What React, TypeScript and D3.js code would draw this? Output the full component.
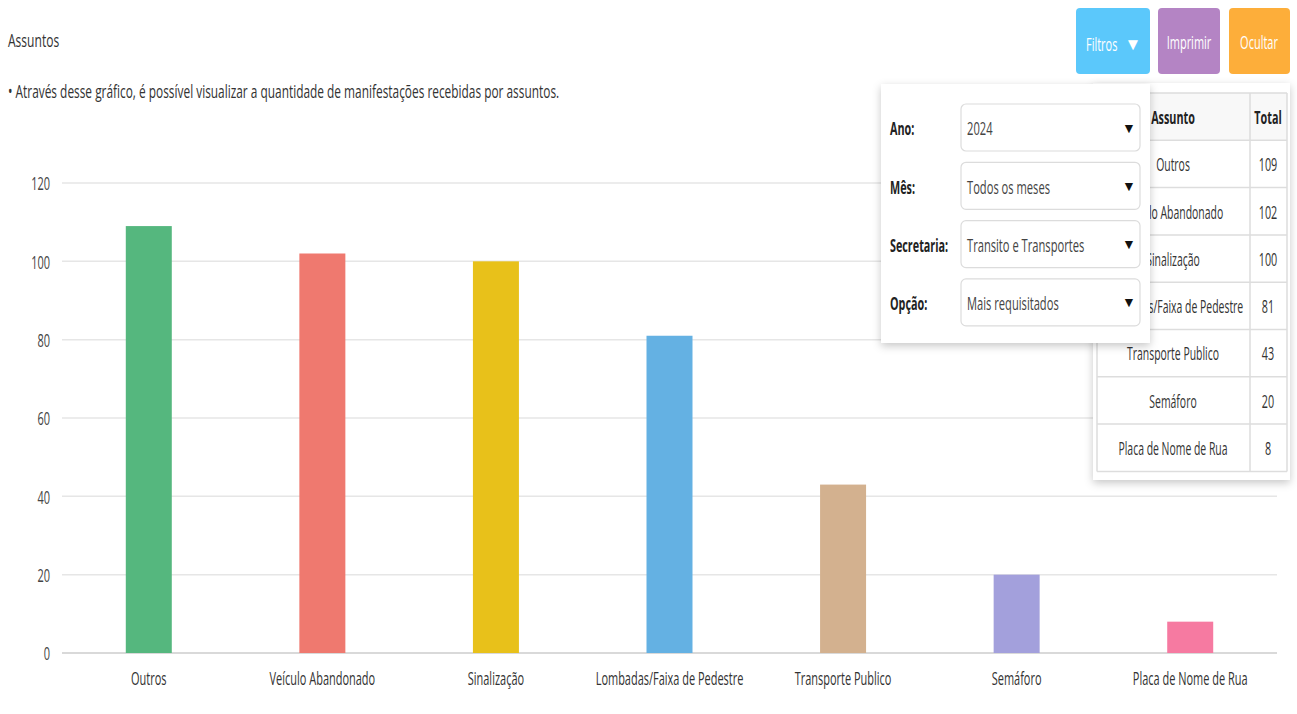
import React from "react";
import * as d3 from "d3";

const categories = ["Outros", "Veículo Abandonado", "Sinalização", "Lombadas/Faixa de Pedestre", "Transporte Publico", "Semáforo", "Placa de Nome de Rua"];
const values = [109, 102, 100, 81, 43, 20, 8];
const colors = ["#55b77e", "#ef796f", "#e8c11a", "#64b1e3", "#d3b18f", "#a3a0dc", "#f67aa1"];
const yTicks = [0, 20, 40, 60, 80, 100, 120];
const filterLabels = ["Ano:", "Mês:", "Secretaria:", "Opção:"];
const filterValues = ["2024", "Todos os meses", "Transito e Transportes", "Mais requisitados"];

const W = 1297, H = 714;
const FONT = "'Open Sans', sans-serif";

function T({ x, y, children, anchor = "start", size = 18, weight = 400, fill = "#333", sx = 0.61 }: any) {
  return (
    <g transform={`translate(${x},${y}) scale(${sx},1)`}>
      <text textAnchor={anchor} dominantBaseline="central" fontSize={size} fontWeight={weight} fill={fill} fontFamily={FONT}>{children}</text>
    </g>
  );
}

export default function App() {
  const x = d3.scaleBand<string>().domain(categories).range([62, 1277]).padding(0);
  const y = d3.scaleLinear().domain([0, 120]).range([653, 183]);
  const bw = x.bandwidth() * 0.265;

  const tableX0 = 1097, tableX1 = 1287, colSplit = 1250, rowH = 47.3, headY = 93;
  const panelBottom = 343, panelRight = 1150;
  return (
    <svg width={W} height={H} style={{ position: "absolute", left: 0, top: 0, background: "#fff" }}>
      <defs>
        <filter id="sh" x="-10%" y="-10%" width="130%" height="130%">
          <feDropShadow dx="0" dy="3" stdDeviation="4" floodColor="#000" floodOpacity="0.22" />
        </filter>
        <clipPath id="cellclip">
          <rect x={panelRight} y={headY} width={colSplit - panelRight - 3} height={panelBottom - headY} />
          <rect x={tableX0} y={panelBottom} width={colSplit - tableX0 - 3} height={headY + 8 * rowH - panelBottom} />
        </clipPath>
      </defs>
      <T x={8} y={40} sx={0.67} fill="#333">Assuntos</T>
      <T x={8} y={91} sx={0.66} fill="#333">• Através desse gráfico, é possível visualizar a quantidade de manifestações recebidas por assuntos.</T>

      {yTicks.map((t) => (
        <g key={t}>
          <line x1={62} x2={1277} y1={y(t)} y2={y(t)} stroke={t === 0 ? "#d9d9d9" : "#e6e6e6"} strokeWidth={t === 0 ? 2 : 1.5} />
          <T x={50} y={y(t)} anchor="end" fill="#444">{t}</T>
        </g>
      ))}
      {categories.map((c, i) => (
        <g key={c}>
          <rect x={x(c)! + x.bandwidth() / 2 - bw / 2} y={y(values[i])} width={bw} height={y(0) - y(values[i])} fill={colors[i]} />
          <T x={x(c)! + x.bandwidth() / 2} y={678} anchor="middle" fill="#333">{c}</T>
        </g>
      ))}

      {/* Buttons */}
      <rect x={1076} y={8} width={74} height={66} rx={4} fill="#5bc8fb" />
      <T x={1086} y={44} fill="#fff">Filtros</T>
      <T x={1133} y={43} anchor="middle" size={17} sx={1} fill="#fff">▼</T>
      <rect x={1158} y={8} width={62} height={66} rx={4} fill="#b484c4" />
      <T x={1189} y={42} anchor="middle" fill="#fff">Imprimir</T>
      <rect x={1229} y={8} width={61} height={66} rx={4} fill="#fdae3a" />
      <T x={1259} y={42} anchor="middle" fill="#fff">Ocultar</T>

      {/* Table */}
      <rect x={1093} y={83} width={197} height={397} fill="#fff" filter="url(#sh)" />
      <rect x={tableX0} y={headY} width={tableX1 - tableX0} height={rowH} fill="#f8f8f8" />
      {d3.range(9).map((k) => (
        <line key={k} x1={tableX0} x2={tableX1} y1={headY + k * rowH} y2={headY + k * rowH} stroke="#ddd" strokeWidth={1.5} />
      ))}
      <line x1={tableX0} x2={tableX0} y1={headY} y2={headY + 8 * rowH} stroke="#ddd" strokeWidth={1.5} />
      <line x1={colSplit} x2={colSplit} y1={headY} y2={headY + 8 * rowH} stroke="#ddd" strokeWidth={1.5} />
      <line x1={tableX1} x2={tableX1} y1={headY} y2={headY + 8 * rowH} stroke="#ddd" strokeWidth={1.5} />
      <T x={1173} y={headY + rowH / 2} anchor="middle" weight={700} sx={0.6} fill="#222">Assunto</T>
      <T x={1268} y={headY + rowH / 2} anchor="middle" weight={700} sx={0.6} fill="#222">Total</T>
      <g clipPath="url(#cellclip)">
        {categories.map((c, i) => (
          <T key={c} x={1173} y={headY + (i + 1.5) * rowH} anchor="middle" sx={0.58} fill="#333">{c}</T>
        ))}
      </g>
      {categories.map((c, i) => (
        <T key={c} x={1268} y={headY + (i + 1.5) * rowH} anchor="middle" sx={0.6} fill="#333">{values[i]}</T>
      ))}

      {/* Filter panel */}
      <rect x={881} y={84} width={269} height={259} fill="#fff" filter="url(#sh)" />
      {filterLabels.map((l, i) => {
        const top = 104 + i * 58.3;
        return (
          <g key={l}>
            <T x={890} y={top + 24} weight={700} sx={0.6} fill="#222">{l}</T>
            <rect x={961} y={top} width={179} height={47} rx={5} fill="#fff" stroke="#dcdcdc" strokeWidth={1.2} />
            <T x={967} y={top + 24} sx={0.62} fill="#444">{filterValues[i]}</T>
            <T x={1129} y={top + 23} anchor="middle" size={14} sx={1} fill="#111">▼</T>
          </g>
        );
      })}
    </svg>
  );
}
